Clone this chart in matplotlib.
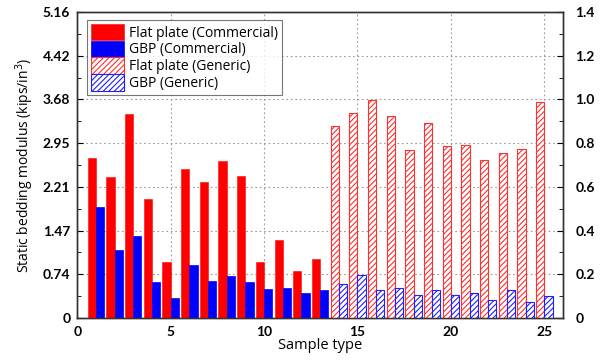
import numpy as np
import matplotlib
matplotlib.use("Agg")
import matplotlib.pyplot as plt
from matplotlib.ticker import AutoMinorLocator

plt.rcParams['hatch.linewidth'] = 0.8
plt.rcParams['font.family'] = ['Open Sans', 'DejaVu Sans']

comm_x = list(range(1, 14))
flat_comm = [2.69, 2.37, 3.44, 2.01, 0.94, 2.51, 2.29, 2.64, 2.39, 0.94, 1.32, 0.79, 1.00]
gbp_comm = [1.88, 1.15, 1.39, 0.61, 0.33, 0.89, 0.62, 0.71, 0.61, 0.49, 0.51, 0.42, 0.48]

gen_x = list(range(14, 26))
flat_gen = [3.24, 3.45, 3.67, 3.40, 2.83, 3.28, 2.90, 2.92, 2.66, 2.78, 2.85, 3.64]
gbp_gen = [0.57, 0.72, 0.48, 0.50, 0.38, 0.47, 0.38, 0.42, 0.31, 0.47, 0.27, 0.37]

left_ticks = [0, 0.737, 1.474, 2.211, 2.949, 3.686, 4.423, 5.16]
left_labels = ["0", "0.74", "1.47", "2.21", "2.95", "3.68", "4.42", "5.16"]
right_ticks = [0, 0.2, 0.4, 0.6, 0.8, 1.0, 1.2, 1.4]
right_labels = ["0", "0.2", "0.4", "0.6", "0.8", "1.0", "1.2", "1.4"]
x_ticks = [0, 5, 10, 15, 20, 25]

tickfont = dict(family=['Lato', 'DejaVu Sans'], weight='bold', size=10)

fig = plt.figure(figsize=(6.08, 3.61), dpi=100)
ax = fig.add_axes([0.127, 0.119, 0.799, 0.848])

w = 0.44
cx = np.array(comm_x)
gx = np.array(gen_x)
ax.bar(cx - w / 2, flat_comm, width=w, color='#ff0000', edgecolor='#ff2020', linewidth=0.5,
       label='Flat plate (Commercial)', zorder=3)
ax.bar(cx + w / 2, gbp_comm, width=w, color='#0000ff', edgecolor='#0000ff', linewidth=0.5,
       label='GBP (Commercial)', zorder=3)
ax.bar(gx - w / 2, flat_gen, width=w, facecolor='white', edgecolor='#ff3030', hatch='//////',
       linewidth=0.8, label='Flat plate (Generic)', zorder=3)
ax.bar(gx + w / 2, gbp_gen, width=w, facecolor='white', edgecolor='#2020ff', hatch='//////',
       linewidth=0.8, label='GBP (Generic)', zorder=3)

ax.set_xlim(0, 26)
ax.set_ylim(0, 5.16)
ax.set_yticks(left_ticks)
ax.set_yticklabels(left_labels, fontdict=tickfont)
ax.set_xticks(x_ticks)
ax.set_xticklabels([str(t) for t in x_ticks], fontdict=tickfont)
ax.yaxis.set_minor_locator(AutoMinorLocator(2))
ax.tick_params(axis='y', which='both', direction='in', right=False, pad=5)
ax.tick_params(axis='y', which='major', length=4)
ax.tick_params(axis='y', which='minor', length=3)
ax.tick_params(axis='x', direction='in', length=2, pad=6)
ax.grid(True, which='major', linestyle=(0, (1.5, 2.5)), color='#999999', linewidth=0.8, zorder=0)
ax.set_axisbelow(True)

ax.set_xlabel('Sample type', fontsize=10.5, labelpad=0)
ax.set_ylabel('Static bedding modulus (kips/in$^3$)', fontsize=10, labelpad=5)

for s in ax.spines.values():
    s.set_color('#333333')
    s.set_linewidth(1.0)

ax2 = ax.twinx()
ax2.set_ylim(0, 1.4)
ax2.set_yticks(right_ticks)
ax2.set_yticklabels(right_labels, fontdict=tickfont)
ax2.yaxis.set_minor_locator(AutoMinorLocator(2))
ax2.tick_params(axis='y', which='both', direction='in', pad=9)
ax2.tick_params(axis='y', which='major', length=4)
ax2.tick_params(axis='y', which='minor', length=3)
for s in ax2.spines.values():
    s.set_color('#333333')
    s.set_linewidth(1.0)

leg = ax.legend(loc='upper left', fontsize=10, frameon=True, fancybox=False,
                handlelength=2.4, handleheight=1.45, borderpad=0.3, labelspacing=0.0,
                handletextpad=0.35, borderaxespad=0.0, bbox_to_anchor=(0.02, 0.975))
leg.get_frame().set_edgecolor('#555555')
leg.get_frame().set_linewidth(0.8)
leg.set_zorder(10)

fig.savefig('out.png', dpi=100)
